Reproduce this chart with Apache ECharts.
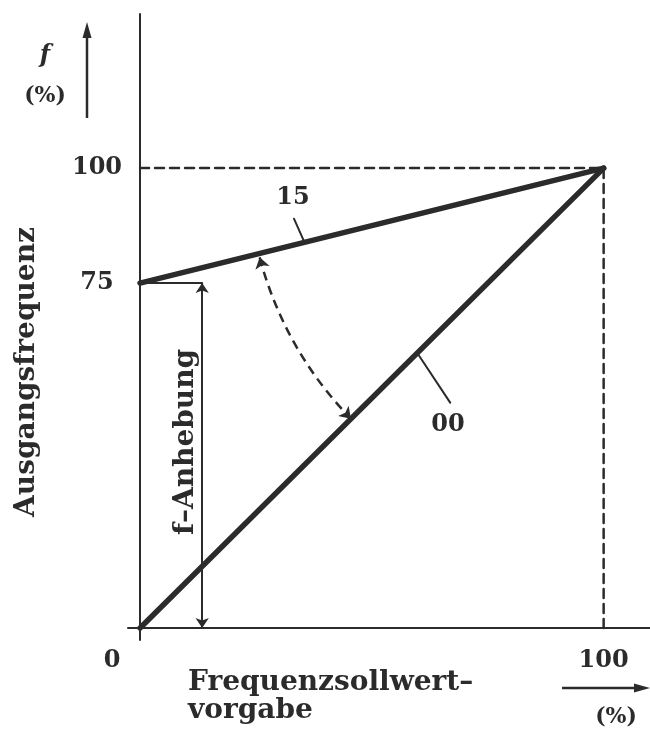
<!DOCTYPE html>
<html>
<head>
<meta charset="utf-8">
<script src="https://cdn.jsdelivr.net/npm/echarts@6/dist/echarts.min.js"></script>
<style>html,body{margin:0;padding:0;background:#fff}#c{width:650px;height:736px}</style>
</head>
<body>
<div id="c"></div>
<script>
// ---- data (percent) ----
const curve15 = [[0, 75], [100, 100]];          // characteristic "15"
const curve00 = [[0, 0], [100, 100]];           // characteristic "00"
const guideH = [[0, 100], [100, 100]];          // dashed 100 % level
const guideV = [[100, 0], [100, 100]];          // dashed 100 % setpoint
const boostStep = [[0, 75], [13.4, 75]];        // f-Anhebung shoulder
const boostArrow = [[13.4, 75], [13.4, 0]];     // f-Anhebung dimension
const swingArrow = [[25.8, 80.6], [45.5, 45.5]];// curved dashed arrow
const leader15 = [[33.2, 89.0], [35.4, 84.0]];
const leader00 = [[59.8, 59.8], [66.9, 49.0]];
const curveLabels = [[33, 93.5, '15'], [66.4, 44.2, '00']];
const yTickLabels = [75, 100];
const xTickLabels = [0, 100];

const INK = '#2b2b2b';
const FONT = 'DejaVu Serif';

const chart = echarts.init(document.getElementById('c'), null, {renderer: 'canvas'});
const lineS = (data, width, type) => ({
  type: 'line', data, symbol: 'none', silent: true, z: 3,
  lineStyle: {color: INK, width, type: type || 'solid', cap: 'round'}
});
chart.setOption({
  animation: false,
  grid: {left: 128, right: 0, top: 14, bottom: 96},
  xAxis: {
    type: 'value', min: -2.6, max: 110,
    axisLine: {onZero: true, lineStyle: {color: INK, width: 2}},
    axisTick: {show: false}, splitLine: {show: false},
    axisLabel: {
      customValues: xTickLabels, margin: 9,
      formatter: v => v === 0 ? '{z|0}' : '{n|100}',
      rich: {
        z: {fontFamily: FONT, fontWeight: 'bold', fontSize: 24, color: INK, padding: [0, 56, 0, 0]},
        n: {fontFamily: FONT, fontWeight: 'bold', fontSize: 24, color: INK}
      }
    }
  },
  yAxis: {
    type: 'value', min: -2.6, max: 133.5,
    axisLine: {onZero: true, lineStyle: {color: INK, width: 2}},
    axisTick: {show: false}, splitLine: {show: false},
    axisLabel: {
      customValues: yTickLabels, margin: 31, align: 'center',
      fontFamily: FONT, fontWeight: 'bold', fontSize: 24, color: INK
    }
  },
  series: [
    lineS(guideH, 2.5, [9, 6]),
    lineS(guideV, 2.5, [9, 6]),
    lineS(curve15, 5.5),
    lineS(curve00, 5.5),
    lineS(boostStep, 2),
    lineS(leader15, 2),
    lineS(leader00, 2),
    {
      type: 'lines', coordinateSystem: 'cartesian2d', silent: true, z: 4,
      symbol: ['arrow', 'arrow'], symbolSize: 10,
      lineStyle: {color: INK, width: 2, opacity: 1},
      data: [{coords: boostArrow}]
    },
    {
      type: 'lines', coordinateSystem: 'cartesian2d', silent: true, z: 4,
      symbol: ['arrow', 'arrow'], symbolSize: 11,
      lineStyle: {color: INK, width: 2.5, type: [9, 6], curveness: -0.13, opacity: 1},
      data: [{coords: swingArrow}]
    },
    {
      type: 'scatter', silent: true, symbolSize: 0, z: 5,
      itemStyle: {opacity: 1, color: INK},
      data: curveLabels,
      label: {
        show: true, position: 'inside', formatter: p => p.value[2], opacity: 1,
        fontFamily: FONT, fontWeight: 'bold', fontSize: 24, color: INK
      }
    }
  ],
  graphic: [
    // y axis title
    {type: 'text', x: 27, y: 372, rotation: Math.PI / 2,
      style: {text: 'Ausgangsfrequenz', font: 'bold 28px "DejaVu Serif"', fill: INK, align: 'center', verticalAlign: 'middle'}},
    // unit top-left
    {type: 'text', x: 45, y: 56, style: {text: 'f', font: 'bold italic 24px "DejaVu Serif"', fill: INK, align: 'center', verticalAlign: 'middle'}},
    {type: 'text', x: 45, y: 96, style: {text: '(%)', font: 'bold 22px "DejaVu Serif"', fill: INK, align: 'center', verticalAlign: 'middle'}},
    {type: 'line', shape: {x1: 87, y1: 118, x2: 87, y2: 34}, style: {stroke: INK, lineWidth: 2.5}},
    {type: 'polygon', shape: {points: [[87, 22], [82.5, 38], [91.5, 38]]}, style: {fill: INK}},
    // x axis title
    {type: 'text', x: 188, y: 683, style: {text: 'Frequenzsollwert\u2013', font: 'bold 28px "DejaVu Serif"', fill: INK, align: 'left', verticalAlign: 'middle'}},
    {type: 'text', x: 188, y: 711, style: {text: 'vorgabe', font: 'bold 28px "DejaVu Serif"', fill: INK, align: 'left', verticalAlign: 'middle'}},
    // unit bottom-right
    {type: 'line', shape: {x1: 562, y1: 688, x2: 636, y2: 688}, style: {stroke: INK, lineWidth: 2.5}},
    {type: 'polygon', shape: {points: [[650, 688], [634, 683.5], [634, 692.5]]}, style: {fill: INK}},
    {type: 'text', x: 616, y: 717, style: {text: '(%)', font: 'bold 22px "DejaVu Serif"', fill: INK, align: 'center', verticalAlign: 'middle'}},
    // boost label
    {type: 'text', x: 186, y: 442, rotation: Math.PI / 2,
      style: {text: 'f\u2013Anhebung', font: 'bold 28px "DejaVu Serif"', fill: INK, align: 'center', verticalAlign: 'middle'}}
  ]
});
</script>
</body>
</html>
